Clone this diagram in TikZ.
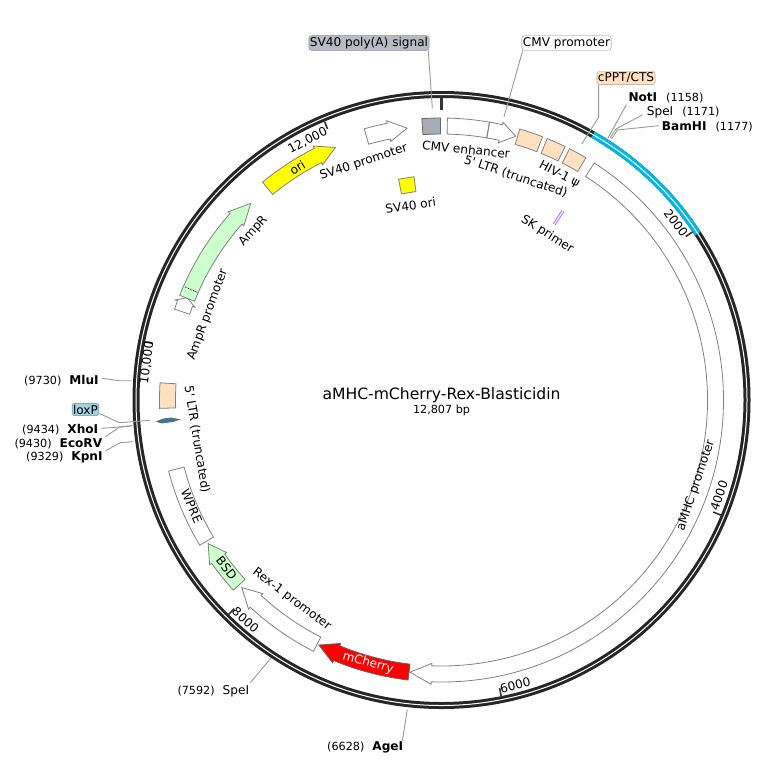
\documentclass[tikz,border=0pt]{standalone}
\usepackage{fontspec}
\setmainfont{DejaVu Sans}[Ligatures=TeXOff]

\definecolor{peach}{HTML}{FFE0C0}
\definecolor{mint}{HTML}{CCFFCC}
\definecolor{orifill}{RGB}{255,255,0}
\definecolor{ringblue}{HTML}{00B8E6}
\definecolor{tagblue}{HTML}{A6D0DC}
\definecolor{taggray}{HTML}{B8BCC2}
\definecolor{polyfill}{HTML}{A8ADB5}
\definecolor{leadgray}{HTML}{999999}
\definecolor{primer}{HTML}{B366FF}
\definecolor{loxfill}{HTML}{2E7F97}

\newcommand{\labelfont}{\fontsize{12.1}{14}\selectfont}
\newcommand{\numfont}{\fontsize{11.2}{13}\selectfont}

\tikzset{
  feat/.style={draw=black!50, line width=0.8pt, line join=miter},
  yard/.style={draw=black!80, line width=1.6pt},
  lead/.style={draw=leadgray, line width=0.9pt},
  lab/.style={inner sep=0pt, font=\labelfont},
  tag/.style={draw=black!45, rounded corners=2.5pt, inner xsep=1pt, inner ysep=1.5pt, font=\labelfont},
  enz/.style={inner sep=0pt, font=\labelfont, anchor=west}
}

% tail angle, angle of the head base, tip angle
\newcommand{\featarrow}[4][]{
  \draw[feat,#1] (#2:266) arc[start angle=#2, end angle=#3, radius=266] -- (#3:263.5)
    -- (#4:274) -- (#3:284.5) -- (#3:282) arc[start angle=#3, end angle=#2, radius=282] -- cycle;
}
\newcommand{\featbox}[3][]{
  \draw[feat,#1] (#2:266) arc[start angle=#2, end angle=#3, radius=266]
    -- (#3:282) arc[start angle=#3, end angle=#2, radius=282] -- cycle;
}

\begin{document}
\begin{tikzpicture}[x=1pt, y=1pt]
  \useasboundingbox (0,0) rectangle (767,-764);

  \begin{scope}[shift={(441.5,-400)}]
    % ring
    \draw[black!85, line width=7pt, line join=round] (0,0) circle[radius=305.5];
    \draw[ringblue, line width=7pt] (60.3:305.5) arc[start angle=60.3, end angle=33, radius=305.5];
    \draw[white, line width=1pt, line join=round] (0,0) circle[radius=305.5];

    % ticks
    \draw[yard, line width=3pt] (90:290) -- (90:303);
    \foreach \a in {33.8,-22.4,-78.6,-134.8,168.9,112.8}
      \draw[yard] (\a:294) -- (\a:302);

    % features
    \featarrow{105.9}{101.1}{97.2}
    \featbox[fill=polyfill, draw=black!60]{94}{90.2}
    \featbox{88.8}{80.2}
    \featarrow{80.2}{77.5}{74.3}
    \featbox[fill=peach]{73.9}{69}
    \featbox[fill=peach]{68}{64}
    \featbox[fill=peach]{63}{59.2}
    \featarrow{57.2}{-92.1}{-96.6}
    \featarrow[fill=red, draw=black!60]{-96.8}{-112.5}{-116.6}
    \featarrow{-117}{-132.7}{-136.8}
    \featarrow[fill=mint]{-137.6}{-144.6}{-148.4}
    \featbox{-165.4}{-149}
    \featbox[fill=peach]{176.5}{181.7}
    \featarrow{161.2}{159.4}{158.1}
    \featarrow[fill=mint]{158.2}{138.6}{134.1}
    \draw[densely dotted, black, line width=0.8pt] (156.2:267) -- (156.2:281);
    \featarrow[fill=orifill]{129.4}{116.8}{112.8}
    \draw[feat, fill=orifill] (101:225) -- (97:225) -- (97:210) -- (101:210) -- cycle;
    \draw[primer, line width=0.8pt] (57.6:208.5) -- (57.6:225) (57:208.5) -- (57:225);

    % scale
    \node[lab, rotate=-52.9] (mark2k) at (37.1:294) {2000};
    \node[lab, rotate=71] (mark4k) at (-19:293.5) {4000};
    \node[lab, rotate=14.5] (mark6k) at (-75.5:294.5) {6000};
    \node[lab, rotate=-41.7] (mark8k) at (-131.7:294.5) {8000};
    \node[lab, rotate=82.8] (mark10k) at (172.8:297) {10,000};
    \node[lab, rotate=27.3] (mark12k) at (117.3:292) {12,000};

    % feature names
    \node[lab, rotate=18.1] (sv40pro) at (108.1:250.2) {SV40 promoter};
    \node[lab, rotate=9] (sv40ori) at (99:197) {SV40 ori};
    \node[lab, rotate=-5.6] (enhancer) at (84.4:251.7) {CMV enhancer};
    \node[lab, rotate=-18.4] (ltrtop) at (71.6:235.5) {5' LTR (truncated)};
    \node[lab, rotate=-27.6] (psi) at (62.4:254.4) {HIV-1 ψ};
    \node[lab, rotate=-32.6] (skprimer) at (57.4:196.4) {SK primer};
    \node[lab, rotate=71.4] (amhc) at (-18.6:268.5) {aMHC promoter};
    \node[lab, rotate=-15.6, text=white] (mcherry) at (-105.6:273) {mCherry};
    \node[lab, rotate=-36.9] (rex) at (-126.9:249.5) {Rex-1 promoter};
    \node[lab, rotate=-52] (bsd) at (-142:272.6) {BSD};
    \node[lab, rotate=-67] (wpre) at (-157:271.4) {WPRE};
    \node[lab, rotate=-80.8] (ltrleft) at (-170.8:247.7) {5' LTR (truncated)};
    \node[lab, rotate=31.8] (ori) at (121.8:273.3) {ori};
    \node[lab, rotate=48.1] (ampr) at (138.1:252.8) {AmpR};
    \node[lab, rotate=69.9] (amprpro) at (159.9:248.7) {AmpR promoter};
  \end{scope}

  \draw[feat, draw=black!60, fill=loxfill] (157,-421.5) -- (163,-419) -- (171,-418) -- (179,-419.5) -- (173,-421.5) -- (162,-423) -- cycle;

  % title
  \node[inner sep=0pt, font=\fontsize{15.6}{18}\selectfont] (title) at (441.5,-395) {aMHC-mCherry-Rex-Blasticidin};
  \node[inner sep=0pt, font=\numfont] (size) at (441.5,-410) {12,807 bp};

  % boxed labels
  \node[tag, fill=taggray] (polyA) at (369,-43) {SV40 poly(A) signal};
  \node[tag, fill=white] (cmv) at (566.5,-43) {CMV promoter};
  \node[tag, fill=peach, draw=black!30!peach] (cppt) at (626,-78) {cPPT/CTS};
  \node[tag, fill=tagblue, draw=teal!60!tagblue] (loxP) at (85.5,-409.5) {loxP};

  % enzymes
  \node[enz] (notI) at (628.3,-98.3) {\textbf{NotI}\hspace{9pt}{\numfont(1158)}};
  \node[enz] (speIa) at (646.7,-112.7) {SpeI\hspace{9pt}{\numfont(1171)}};
  \node[enz] (bamHI) at (661.7,-126.7) {\textbf{BamHI}\hspace{9pt}{\numfont(1177)}};
  \node[enz] (mluI) at (24,-380.7) {{\numfont(9730)}\hspace{8pt}\textbf{MluI}};
  \node[enz] (xhoI) at (22,-430) {{\numfont(9434)}\hspace{8pt}\textbf{XhoI}};
  \node[enz] (ecoRV) at (14.3,-444) {{\numfont(9430)}\hspace{8pt}\textbf{EcoRV}};
  \node[enz] (kpnI) at (26,-457.7) {{\numfont(9329)}\hspace{8pt}\textbf{KpnI}};
  \node[enz] (speIb) at (177.3,-691.7) {{\numfont(7592)}\hspace{8pt}SpeI};
  \node[enz] (ageI) at (327,-747.7) {{\numfont(6628)}\hspace{8pt}\textbf{AgeI}};

  % leader ends
  \coordinate (polyAend) at (432.3,-108.3);
  \coordinate (cmvend) at (504,-116.7);
  \coordinate (cpptend) at (581.7,-144);
  \coordinate (notIend) at (608,-138);
  \coordinate (speIaend) at (610,-138);
  \coordinate (bamHIend) at (611.7,-139);
  \coordinate (mluIend) at (131.7,-380.7);
  \coordinate (loxPend) at (150,-420.3);
  \coordinate (xhoIend) at (132.3,-425.7);
  \coordinate (ecoRVend) at (132.3,-425.7);
  \coordinate (kpnIend) at (133.3,-441.7);
  \coordinate (speIbend) at (270.7,-658.3);
  \coordinate (ageIend) at (407.3,-709.3);

  \draw[lead] (polyA.south east) ++(-1,0) -- (polyAend);
  \draw[lead] (cmv.south west) ++(1,0) -- (cmvend);
  \draw[lead] (cppt.south west) ++(2,0) -- ++(0,-32.3) -- (cpptend);
  \draw[lead] (notI.south west) ++(-2,-1) -- (notIend);
  \draw[lead] (speIa.west) ++(-4,-2) -- (616,-129) -- (speIaend);
  \draw[lead] (bamHI.west) ++(-3,1) -- (617.3,-130) -- (bamHIend);
  \draw[lead] (mluI.east) ++(3,2.4) -- (119.3,-380.7) -- (mluIend);
  \draw[lead] (loxP.east) ++(0.5,-4) -- (119.3,-422.7) -- (loxPend);
  \draw[lead] (xhoI.east) ++(3,1.7) -- (119.3,-427) -- (xhoIend);
  \draw[lead] (ecoRV.east) ++(3,7.3) -- (119.3,-427.3) -- (ecoRVend);
  \draw[lead] (kpnI.east) ++(3,7) -- (120,-442.7) -- (kpnIend);
  \draw[lead] (speIb.east) ++(1,9) -- (speIbend);
  \draw[lead] (ageI.north east) ++(-1,1) -- (ageIend);
\end{tikzpicture}
\end{document}
